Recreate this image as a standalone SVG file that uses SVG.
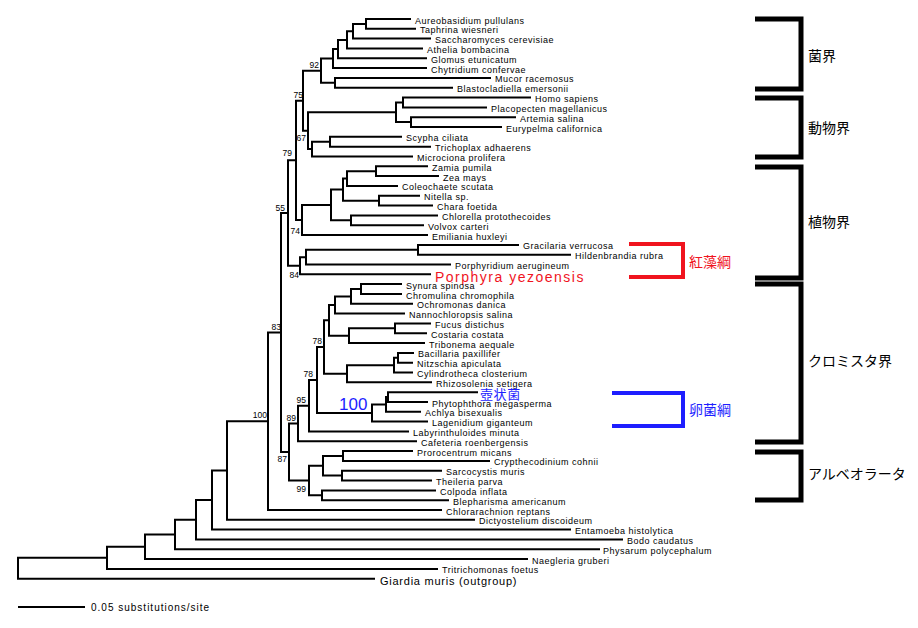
<svg xmlns="http://www.w3.org/2000/svg" width="918" height="628" viewBox="0 0 918 628">
<style>
.br{fill:none;stroke:#000;stroke-width:2;stroke-linejoin:miter}
.lf{font-family:"Liberation Sans",Arial,sans-serif;font-size:9px;letter-spacing:0.5px;fill:#000}
.sp{font-family:"Liberation Sans",Arial,sans-serif;font-size:8.5px;fill:#000;text-anchor:end}
.kg{font-family:"Liberation Sans","Noto Sans CJK JP",sans-serif;font-size:14px;fill:#000}
.bk{fill:none;stroke:#000;stroke-width:5;stroke-linejoin:miter}
</style>
<rect width="918" height="628" fill="#fff"/>
<g id="connectors" class="br">
<path d="M411,19 H366 V28.8 H416"/>
<path d="M366,23.9 H353 V38.6 H431"/>
<path d="M353,31.25 H347 V48.5 H423"/>
<path d="M347,39.9 H338 V58.3 H427"/>
<path d="M338,49.1 H333 V68.1 H427"/>
<path d="M491,77.9 H335 V87.7 H453"/>
<path d="M333,58.6 H321 V82.8 H335"/>
<path d="M531,97.6 H403 V107.4 H487"/>
<path d="M516,117.2 H411 V127 H502"/>
<path d="M403,102.5 H396 V122.1 H411"/>
<path d="M402,136.8 H330 V146.7 H431"/>
<path d="M330,141.75 H312 V156.5 H413"/>
<path d="M396,112.3 H308 V149.1 H312"/>
<path d="M321,70.7 H303 V130.7 H308"/>
<path d="M428,166.3 H376 V176.1 H439"/>
<path d="M376,171.2 H347 V185.9 H398"/>
<path d="M420,195.8 H379 V205.6 H433"/>
<path d="M347,178.55 H343 V200.7 H379"/>
<path d="M438,215.4 H351 V225.2 H424"/>
<path d="M343,189.6 H331 V220.3 H351"/>
<path d="M331,204.95 H302 V235 H428"/>
<path d="M303,100.7 H296 V220 H302"/>
<path d="M519,244.9 H418 V254.7 H571"/>
<path d="M418,249.8 H306 V264.5 H451"/>
<path d="M306,257.15 H300 V274.3 H431"/>
<path d="M296,160.35 H288 V265.7 H300"/>
<path d="M402,284.1 H361 V294 H402"/>
<path d="M361,289.05 H351 V303.8 H413"/>
<path d="M351,296.4 H335 V313.6 H405"/>
<path d="M431,323.4 H395 V333.2 H427"/>
<path d="M395,328.3 H349 V343.1 H425"/>
<path d="M335,305 H329 V335.7 H349"/>
<path d="M414,352.9 H398 V362.7 H413"/>
<path d="M398,357.8 H394 V372.5 H413"/>
<path d="M394,365.15 H347 V382.3 H432"/>
<path d="M329,320.35 H324 V373.7 H347"/>
<path d="M478,392.2 H388 V402 H428"/>
<path d="M388,397.1 H386 V411.8 H421"/>
<path d="M386,404.45 H372 V421.6 H428"/>
<path d="M324,347 H317 V413 H372"/>
<path d="M317,380 H309 V431.4 H409"/>
<path d="M309,405.7 H298 V441.3 H417"/>
<path d="M413,451.1 H343 V460.9 H490"/>
<path d="M442,470.7 H342 V480.5 H432"/>
<path d="M343,456 H323 V475.6 H342"/>
<path d="M436,490.4 H322 V500.2 H449"/>
<path d="M323,465.8 H309 V495.3 H322"/>
<path d="M298,423.5 H289 V480.55 H309"/>
<path d="M288,213 H281 V452 H289"/>
<path d="M281,332.5 H268 V510 H442"/>
<path d="M268,421.25 H227 V519.8 H475"/>
<path d="M227,470.5 H212 V529.6 H571"/>
<path d="M212,500.05 H196 V539.5 H623"/>
<path d="M196,519.8 H175 V549.3 H600"/>
<path d="M175,534.55 H145 V559.1 H528"/>
<path d="M145,546.8 H107 V568.9 H438"/>
<path d="M107,557.85 H18 V578.7 H375"/>
</g>
<g id="support" class="sp">
<text x="319" y="68">92</text>
<text x="303" y="98">75</text>
<text x="306" y="141">67</text>
<text x="292" y="156">79</text>
<text x="285" y="211">55</text>
<text x="300" y="234">74</text>
<text x="299" y="278">84</text>
<text x="281" y="330">83</text>
<text x="322" y="344">78</text>
<text x="313" y="377">78</text>
<text x="306" y="403">95</text>
<text x="296" y="421">89</text>
<text x="287" y="462">87</text>
<text x="306" y="492">99</text>
<text x="267" y="418">100</text>
</g>
<g id="leaves" class="lf">
<g id="leaf-aureobasidium"><text x="415" y="23.5">Aureobasidium pullulans</text></g>
<g id="leaf-taphrina"><text x="420" y="33.3">Taphrina wiesneri</text></g>
<g id="leaf-saccharomyces"><text x="435" y="43.1">Saccharomyces cerevisiae</text></g>
<g id="leaf-athelia"><text x="427" y="53">Athelia bombacina</text></g>
<g id="leaf-glomus"><text x="431" y="62.8">Glomus etunicatum</text></g>
<g id="leaf-chytridium"><text x="431" y="72.6">Chytridium confervae</text></g>
<g id="leaf-mucor"><text x="495" y="82.4">Mucor racemosus</text></g>
<g id="leaf-blastocladiella"><text x="457" y="92.2">Blastocladiella emersonii</text></g>
<g id="leaf-homo"><text x="535" y="102.1">Homo sapiens</text></g>
<g id="leaf-placopecten"><text x="491" y="111.9">Placopecten magellanicus</text></g>
<g id="leaf-artemia"><text x="520" y="121.7">Artemia salina</text></g>
<g id="leaf-eurypelma"><text x="506" y="131.5">Eurypelma californica</text></g>
<g id="leaf-scypha"><text x="406" y="141.3">Scypha ciliata</text></g>
<g id="leaf-trichoplax"><text x="435" y="151.2">Trichoplax adhaerens</text></g>
<g id="leaf-microciona"><text x="417" y="161">Microciona prolifera</text></g>
<g id="leaf-zamia"><text x="432" y="170.8">Zamia pumila</text></g>
<g id="leaf-zea"><text x="443" y="180.6">Zea mays</text></g>
<g id="leaf-coleochaete"><text x="402" y="190.4">Coleochaete scutata</text></g>
<g id="leaf-nitella"><text x="424" y="200.3">Nitella sp.</text></g>
<g id="leaf-chara"><text x="437" y="210.1">Chara foetida</text></g>
<g id="leaf-chlorella"><text x="442" y="219.9">Chlorella protothecoides</text></g>
<g id="leaf-volvox"><text x="428" y="229.7">Volvox carteri</text></g>
<g id="leaf-emiliania"><text x="432" y="239.5">Emiliania huxleyi</text></g>
<g id="leaf-gracilaria"><text x="523" y="249.4">Gracilaria verrucosa</text></g>
<g id="leaf-hildenbrandia"><text x="575" y="259.2">Hildenbrandia rubra</text></g>
<g id="leaf-porphyridium"><text x="455" y="268.8">Porphyridium aerugineum</text></g>
<g id="leaf-porphyra"><text x="435" y="281.6" style="font-size:14px;letter-spacing:1.5px;fill:#f0141e">Porphyra yezoensis</text></g>
<g id="leaf-synura"><text x="406" y="288.6">Synura spinosa</text></g>
<g id="leaf-chromulina"><text x="406" y="298.5">Chromulina chromophila</text></g>
<g id="leaf-ochromonas"><text x="417" y="308.3">Ochromonas danica</text></g>
<g id="leaf-nannochloropsis"><text x="409" y="318.1">Nannochloropsis salina</text></g>
<g id="leaf-fucus"><text x="435" y="327.9">Fucus distichus</text></g>
<g id="leaf-costaria"><text x="431" y="337.7">Costaria costata</text></g>
<g id="leaf-tribonema"><text x="429" y="347.6">Tribonema aequale</text></g>
<g id="leaf-bacillaria"><text x="418" y="357.4">Bacillaria paxillifer</text></g>
<g id="leaf-nitzschia"><text x="417" y="367.2">Nitzschia apiculata</text></g>
<g id="leaf-cylindrotheca"><text x="417" y="377">Cylindrotheca closterium</text></g>
<g id="leaf-rhizosolenia"><text x="436" y="386.6">Rhizosolenia setigera</text></g>
<g id="leaf-tsubojokin"><text x="480" y="398.9" style="font-family:'Noto Sans CJK JP',sans-serif;font-size:13px;letter-spacing:0.6px;fill:#1e1eff">壺状菌</text></g>
<g id="leaf-phytophthora"><text x="432" y="406.8">Phytophthora megasperma</text></g>
<g id="leaf-achlya"><text x="425" y="416.3">Achlya bisexualis</text></g>
<g id="leaf-lagenidium"><text x="432" y="426.1">Lagenidium giganteum</text></g>
<g id="leaf-labyrinthuloides"><text x="413" y="435.9">Labyrinthuloides minuta</text></g>
<g id="leaf-cafeteria"><text x="421" y="445.8">Cafeteria roenbergensis</text></g>
<g id="leaf-prorocentrum"><text x="417" y="455.6">Prorocentrum micans</text></g>
<g id="leaf-crypthecodinium"><text x="494" y="465.4">Crypthecodinium cohnii</text></g>
<g id="leaf-sarcocystis"><text x="446" y="475.2">Sarcocystis muris</text></g>
<g id="leaf-theileria"><text x="436" y="485">Theileria parva</text></g>
<g id="leaf-colpoda"><text x="440" y="494.9">Colpoda inflata</text></g>
<g id="leaf-blepharisma"><text x="453" y="504.7">Blepharisma americanum</text></g>
<g id="leaf-chlorarachnion"><text x="446" y="514.5">Chlorarachnion reptans</text></g>
<g id="leaf-dictyostelium"><text x="479" y="524.3">Dictyostelium discoideum</text></g>
<g id="leaf-entamoeba"><text x="575" y="534.1">Entamoeba histolytica</text></g>
<g id="leaf-bodo"><text x="627" y="544">Bodo caudatus</text></g>
<g id="leaf-physarum"><text x="603" y="553.8">Physarum polycephalum</text></g>
<g id="leaf-naegleria"><text x="532" y="563.6">Naegleria gruberi</text></g>
<g id="leaf-tritrichomonas"><text x="442" y="573.4">Tritrichomonas foetus</text></g>
<g id="leaf-giardia"><text x="380" y="584.5" style="font-size:11px;letter-spacing:0.75px">Giardia muris (outgroup)</text></g>
</g>
<g id="oomycete-support"><text x="339" y="410" style="font-family:'Liberation Sans',Arial,sans-serif;font-size:17px;fill:#1e1eff">100</text></g>
<g id="bracket-fungi"><path class="bk" d="M755,19 H801 V89 H755"/><text class="kg" x="808" y="61">菌界</text></g>
<g id="bracket-animals"><path class="bk" d="M755,98 H801 V157 H755"/><text class="kg" x="808" y="133.3">動物界</text></g>
<g id="bracket-plants"><path class="bk" d="M755,167 H801 V278 H755"/><text class="kg" x="808" y="227">植物界</text></g>
<g id="bracket-chromista"><path class="bk" d="M755,284 H801 V442 H755"/><text class="kg" x="808" y="366.3">クロミスタ界</text></g>
<g id="bracket-alveolata"><path class="bk" d="M755,452 H801 V500 H755"/><text class="kg" x="808" y="479.3">アルベオラータ</text></g>
<g id="bracket-rhodophyceae"><path d="M629,244 H683 V277 H629" fill="none" stroke="#f0141e" stroke-width="4"/><text class="kg" x="689" y="267" style="fill:#f0141e">紅藻綱</text></g>
<g id="bracket-oomycetes"><path d="M612,393 H683 V426 H612" fill="none" stroke="#1e1eff" stroke-width="4"/><text class="kg" x="689" y="415.3" style="fill:#1e1eff">卵菌綱</text></g>
<g id="scale-bar"><path d="M18,607 H85" stroke="#000" stroke-width="2"/><text x="91" y="610.5" style="font-family:'Liberation Sans',Arial,sans-serif;font-size:10px;letter-spacing:1px">0.05 substitutions/site</text></g>
</svg>
